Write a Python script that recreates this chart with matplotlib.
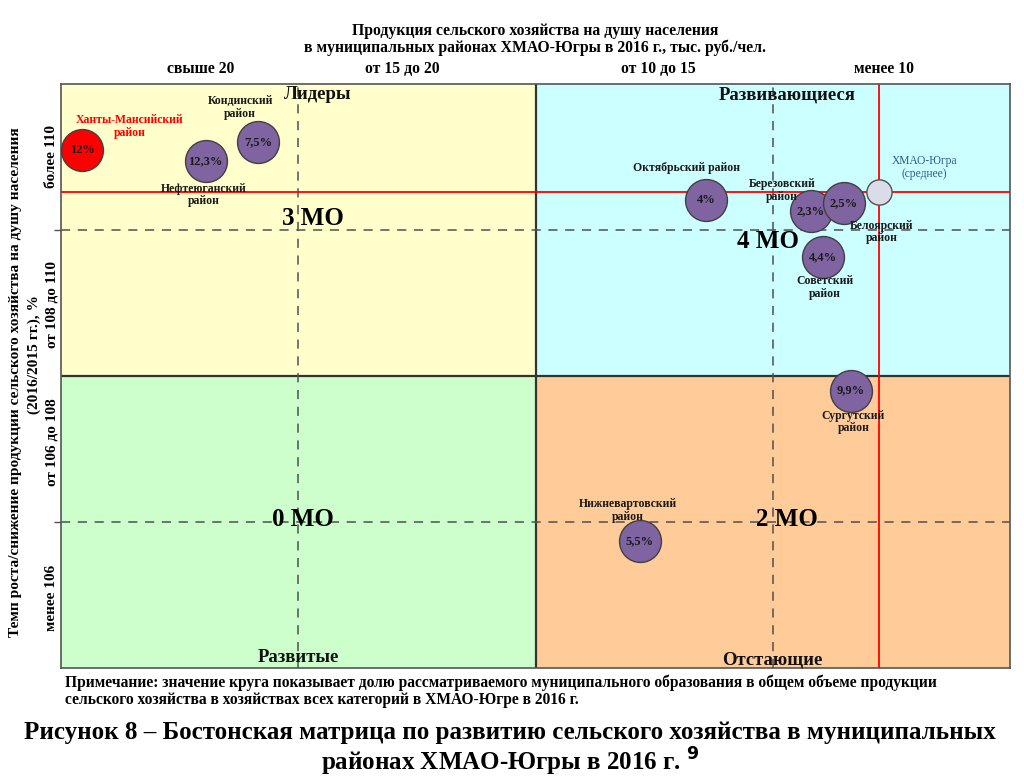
import matplotlib.pyplot as plt
from matplotlib.patches import Rectangle

plt.rcParams['font.family'] = ['Liberation Serif', 'DejaVu Serif']
plt.rcParams['font.weight'] = 'bold'

# Column / row categories of the matrix (grid coordinates 0..4)
col_labels = ['свыше 20', 'от 15 до 20', 'от 10 до 15', 'менее 10']
col_pos = [0.59, 1.44, 2.52, 3.47]
row_labels = ['менее 106', 'от 106 до 108', 'от 108 до 110', 'более 110']
row_pos = [0.48, 1.55, 2.49, 3.50]

# Quadrants: name, count of MO
quad_names = ['Лидеры', 'Развивающиеся', 'Развитые', 'Отстающие']
quad_counts = ['3 МО', '4 МО', '0 МО', '2 МО']

# Municipal districts (position in grid coordinates)
districts = ['Ханты-Мансийский\nрайон', 'Нефтеюганский\nрайон', 'Кондинский\nрайон',
             'Октябрьский район', 'Березовский\nрайон', 'Белоярский\nрайон',
             'Советский\nрайон', 'Сургутский\nрайон', 'Нижневартовский\nрайон']
dist_x = [0.09, 0.61, 0.83, 2.72, 3.16, 3.30, 3.21, 3.33, 2.44]
dist_y = [3.55, 3.47, 3.60, 3.205, 3.13, 3.185, 2.815, 1.90, 0.87]
shares = ['12%', '12,3%', '7,5%', '4%', '2,3%', '2,5%', '4,4%', '9,9%', '5,5%']

# Region average (ХМАО-Югра)
avg_x = 3.448
avg_y = 3.26

fig = plt.figure(figsize=(10.24, 7.8), dpi=100)
ax = fig.add_axes([61 / 1024, 1 - 668 / 780, 949 / 1024, 584 / 780])
ax.set_xlim(0, 4)
ax.set_ylim(0, 4)
ax.set_xticks([])
ax.set_yticks([1, 3])
ax.set_yticklabels([])
ax.tick_params(axis='y', length=5, color='#505050', width=1)
for s in ax.spines.values():
    s.set_color('#555555')
    s.set_linewidth(1.2)

# quadrant backgrounds
ax.add_patch(Rectangle((0, 2), 2, 2, color='#FFFFCC', zorder=0))
ax.add_patch(Rectangle((2, 2), 2, 2, color='#CCFFFF', zorder=0))
ax.add_patch(Rectangle((0, 0), 2, 2, color='#CCFFCC', zorder=0))
ax.add_patch(Rectangle((2, 0), 2, 2, color='#FFCC99', zorder=0))

# quadrant borders
ax.axvline(2, color='#333333', lw=1.6, zorder=1)
ax.axhline(2, color='#333333', lw=1.6, zorder=1)

# dashed category lines
for v in [1, 3]:
    ax.axvline(v, color='#505050', lw=1.1, ls=(0, (6, 5)), zorder=1)
    ax.axhline(v, color='#505050', lw=1.1, ls=(0, (6, 5)), zorder=1)

# red average lines
ax.axvline(avg_x, color='#FF0000', lw=1.3, zorder=2)
ax.axhline(avg_y, color='#FF0000', lw=1.3, zorder=2)

# quadrant names and counts
ax.text(1.08, 3.925, quad_names[0], ha='center', va='center', fontsize=13.5, color='#111111')
ax.text(3.06, 3.925, quad_names[1], ha='center', va='center', fontsize=13.5, color='#111111')
ax.text(1.00, 0.075, quad_names[2], ha='center', va='center', fontsize=13.5, color='#111111')
ax.text(3.00, 0.055, quad_names[3], ha='center', va='center', fontsize=13.5, color='#111111')
ax.text(1.06, 3.08, quad_counts[0], ha='center', va='center', fontsize=18)
ax.text(2.98, 2.92, quad_counts[1], ha='center', va='center', fontsize=18)
ax.text(1.02, 1.02, quad_counts[2], ha='center', va='center', fontsize=18)
ax.text(3.06, 1.02, quad_counts[3], ha='center', va='center', fontsize=18)

# bubbles
for i in range(len(districts)):
    fc = '#FF0000' if i == 0 else '#8064A2'
    ax.scatter(dist_x[i], dist_y[i], s=910, facecolor=fc, edgecolor='#404040',
               linewidth=1.0, zorder=4, clip_on=False)
    ax.text(dist_x[i], dist_y[i], shares[i], ha='center', va='center', fontsize=9,
            color='#1a1a1a', zorder=6)
ax.scatter(avg_x, avg_y, s=330, facecolor='#DCDCE8', edgecolor='#505050', linewidth=1.0, zorder=4)

# district labels (offsets in grid units)
lab_dx = [0.20, -0.01, -0.075, -0.085, -0.12, 0.16, 0.01, 0.01, -0.05]
lab_dy = [0.16, -0.23, 0.24, 0.22, 0.14, -0.20, -0.21, -0.215, 0.21]
for i in range(len(districts)):
    col = '#FF0000' if i == 0 else '#1a1a1a'
    ax.text(dist_x[i] + lab_dx[i], dist_y[i] + lab_dy[i], districts[i], ha='center',
            va='center', fontsize=8.5, color=col, linespacing=1.05, zorder=5)
ax.text(avg_x + 0.19, avg_y + 0.17, 'ХМАО-Югра\n(среднее)', ha='center', va='center',
        fontsize=8.3, color='#2E5A8A', fontweight='normal', linespacing=1.1, zorder=5)

# column labels above the plot
for i, lab in enumerate(col_labels):
    ax.text(col_pos[i], 4.05, lab, ha='center', va='bottom', fontsize=11.3)

# row labels at the left
for i, lab in enumerate(row_labels):
    ax.text(-0.012, row_pos[i], lab, ha='right', va='center', rotation=90, fontsize=11)

# titles and axis label
fig.text(535 / 1024, 1 - 31 / 780, 'Продукция сельского хозяйства на душу населения',
         ha='center', va='center', fontsize=11.3)
fig.text(535 / 1024, 1 - 48 / 780, 'в муниципальных районах ХМАО-Югры в 2016 г., тыс. руб./чел.',
         ha='center', va='center', fontsize=11.3)
fig.text(16 / 1024, 1 - 382 / 780,
         'Темп роста/снижение продукции сельского хозяйства на душу населения',
         ha='center', va='center', rotation=90, fontsize=11.1)
fig.text(34 / 1024, 1 - 355 / 780, '(2016/2015 гг.), %', ha='center', va='center',
         rotation=90, fontsize=11.1)

# note and caption
fig.text(65 / 1024, 1 - 683 / 780,
         'Примечание: значение круга показывает долю рассматриваемого муниципального '
         'образования в общем объеме продукции',
         ha='left', va='center', fontsize=11.2)
fig.text(65 / 1024, 1 - 700 / 780,
         'сельского хозяйства в хозяйствах всех категорий в ХМАО-Югре в 2016 г.',
         ha='left', va='center', fontsize=11.2)
fig.text(510 / 1024, 1 - 733 / 780,
         'Рисунок 8 – Бостонская матрица по развитию сельского хозяйства в муниципальных',
         ha='center', va='center', fontsize=18)
fig.text(510 / 1024, 1 - 762 / 780, 'районах ХМАО-Югры в 2016 г. $^{9}$',
         ha='center', va='center', fontsize=18)

fig.savefig('out.png', dpi=100, facecolor='white')
